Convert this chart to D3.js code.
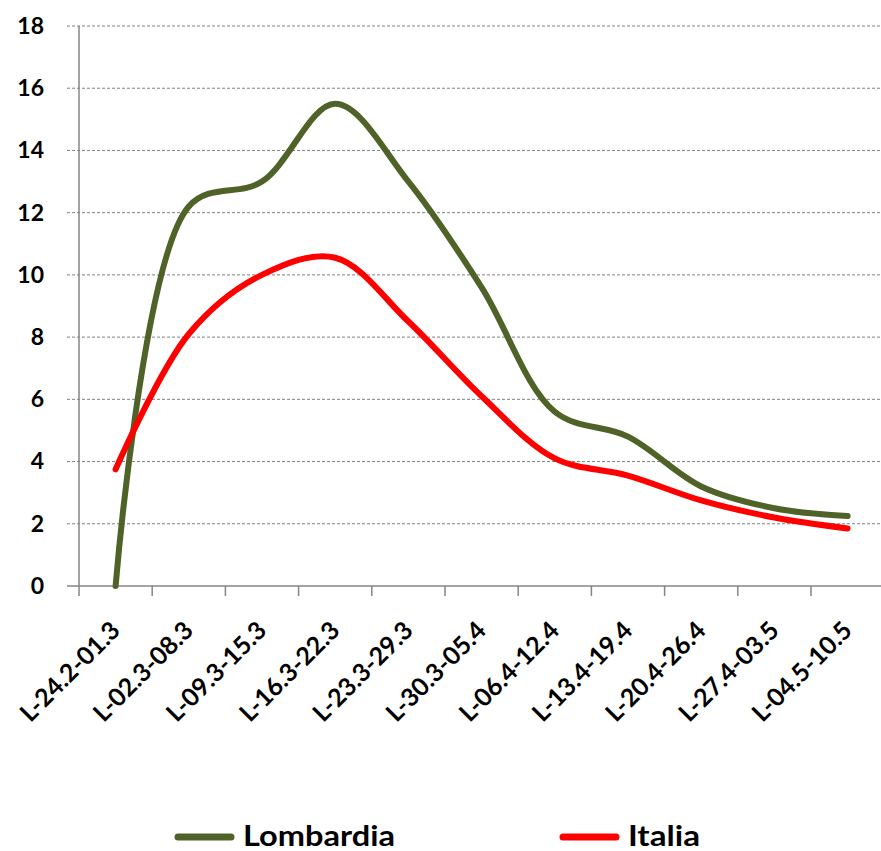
<!DOCTYPE html>
<html><head><meta charset="utf-8">
<script src="https://cdn.jsdelivr.net/npm/d3@7"></script>
<style>body{margin:0;background:#fff;} svg{display:block;}</style>
</head><body>
<svg id="c" width="881" height="851"></svg>
<script>
const categories = ["L-24.2-01.3","L-02.3-08.3","L-09.3-15.3","L-16.3-22.3","L-23.3-29.3","L-30.3-05.4","L-06.4-12.4","L-13.4-19.4","L-20.4-26.4","L-27.4-03.5","L-04.5-10.5"];
const lombardia = [0, 12.2, 13.0, 15.5, 13.0, 9.6, 5.6, 4.8, 3.2, 2.5, 2.25];
const italia = [3.75, 8.1, 10.0, 10.55, 8.5, 6.1, 4.1, 3.55, 2.75, 2.2, 1.85];
const yTicks = [0, 2, 4, 6, 8, 10, 12, 14, 16, 18];
const seriesNames = ["Lombardia", "Italia"];
const seriesColors = ["#4F6228", "#FF0000"];

const FONT = "Lato, 'Open Sans', sans-serif";
const svg = d3.select("#c");
const plot = {left: 79, right: 884.2, top: 26, bottom: 586};
const x = d3.scaleBand().domain(categories).range([plot.left, plot.right]);
const y = d3.scaleLinear().domain([0, 18]).range([plot.bottom, plot.top]);
const axisCol = "#868686";

// dashed gridlines (extend left of axis as ticks)
svg.append("g").selectAll("line").data(yTicks.filter(d => d > 0)).join("line")
  .attr("x1", 67).attr("x2", 881)
  .attr("y1", d => y(d)).attr("y2", d => y(d))
  .attr("stroke", "#808080").attr("stroke-width", 1).attr("stroke-dasharray", "3,2");

// y axis labels
const yAxis = svg.append("g").attr("transform", `translate(${plot.left},0)`)
  .call(d3.axisLeft(y).tickValues(yTicks).tickSize(0).tickPadding(35));
yAxis.select(".domain").remove();
yAxis.selectAll("text").attr("font-family", FONT).attr("font-weight", "bold")
  .attr("font-size", 23).attr("fill", "#000");

// y axis line
svg.append("line").attr("x1", plot.left).attr("x2", plot.left)
  .attr("y1", plot.top).attr("y2", plot.bottom)
  .attr("stroke", axisCol).attr("stroke-width", 1.5);

// x axis
const xAxis = svg.append("g").attr("transform", `translate(0,${plot.bottom})`)
  .call(d3.axisBottom(x).tickSize(0));
xAxis.select(".domain").remove();
xAxis.selectAll("text")
  .attr("font-family", FONT).attr("font-weight", "bold").attr("font-size", 25).attr("fill", "#000")
  .attr("y", 0).attr("dy", 0).attr("text-anchor", "end")
  .attr("transform", "translate(6,46) rotate(-45)");

svg.append("line").attr("x1", 67).attr("x2", 881)
  .attr("y1", plot.bottom).attr("y2", plot.bottom)
  .attr("stroke", axisCol).attr("stroke-width", 1.5);
svg.append("g").selectAll("line").data(categories).join("line")
  .attr("x1", d => x(d)).attr("x2", d => x(d))
  .attr("y1", plot.bottom).attr("y2", plot.bottom + 10)
  .attr("stroke", axisCol).attr("stroke-width", 1.5);

// series lines
const line = d3.line()
  .x((d, i) => x(categories[i]) + x.bandwidth() / 2)
  .y(d => y(d))
  .curve(d3.curveCatmullRom.alpha(0.5));
[lombardia, italia].forEach((s, k) => {
  svg.append("path").attr("d", line(s)).attr("fill", "none")
    .attr("stroke", seriesColors[k]).attr("stroke-width", 6)
    .attr("stroke-linecap", "round").attr("stroke-linejoin", "round");
});

// legend
const legendPos = [178, 563];
const legendTextW = [152, 72];
seriesNames.forEach((n, k) => {
  const g = svg.append("g").attr("transform", `translate(${legendPos[k]},837)`);
  g.append("line").attr("x1", 0).attr("x2", 53).attr("y1", 0).attr("y2", 0)
    .attr("stroke", seriesColors[k]).attr("stroke-width", 7).attr("stroke-linecap", "round");
  g.append("text").attr("x", 65).attr("y", 9).text(n)
    .attr("font-family", FONT).attr("font-weight", "bold").attr("font-size", 29).attr("fill", "#000")
    .attr("textLength", legendTextW[k]).attr("lengthAdjust", "spacingAndGlyphs");
});
</script>
</body></html>
